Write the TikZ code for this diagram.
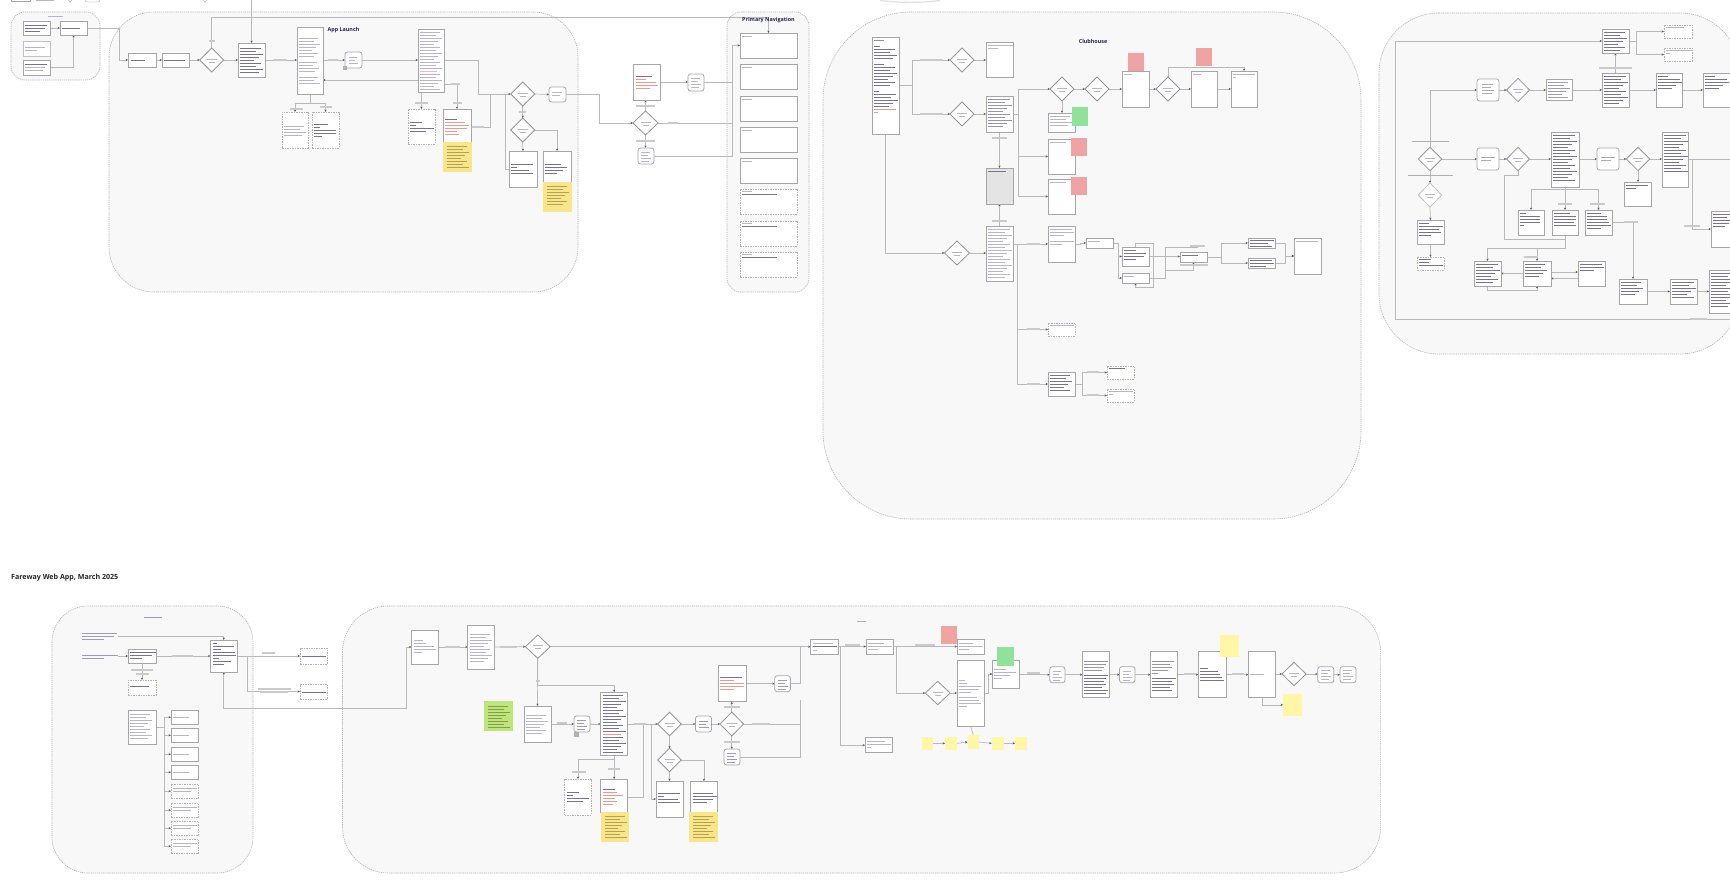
\documentclass[tikz,border=0pt]{standalone}
\usepackage{fontspec}
\setmainfont{Open Sans}
\usetikzlibrary{shapes.geometric,arrows.meta,calc}
\definecolor{grpfill}{HTML}{F8F8F8}
\definecolor{grpline}{HTML}{B2B2B2}
\definecolor{boxline}{HTML}{A6A6A6}
\definecolor{boxgray}{HTML}{E4E4E4}
\definecolor{conline}{HTML}{B9B9B9}
\definecolor{arrcol}{HTML}{5A5A5A}
\definecolor{tdark}{HTML}{76728F}
\definecolor{tlight}{HTML}{B8B5CA}
\definecolor{tred}{HTML}{E99A8C}
\definecolor{navy}{HTML}{23234F}
\definecolor{lblcol}{HTML}{CACACA}
\definecolor{yel}{HTML}{FAE68A}
\definecolor{yeltext}{HTML}{B3A24F}
\definecolor{lime}{HTML}{C0E47C}
\definecolor{limetext}{HTML}{7E9E48}
\definecolor{redst}{HTML}{F0A3A3}
\definecolor{grnst}{HTML}{8EE29A}
\definecolor{paley}{HTML}{FFF7A6}
\pgfdeclarelayer{grp}
\pgfdeclarelayer{bg}
\pgfsetlayers{grp,bg,main}
\tikzset{
 grp/.style={draw=grpline,fill=grpfill,dash pattern=on 1.2pt off 0.9pt,line width=0.6pt},
 box/.style={draw=boxline,fill=white,line width=0.8pt,inner sep=0pt,outer sep=0pt},
 dbox/.style={box,draw=boxline!85,dash pattern=on 1.5pt off 1pt},
 gbox/.style={box,fill=boxgray},
 cyl/.style={box,rounded corners=2.5pt},
 dia/.style={shape=diamond,draw=boxline!90!black,fill=white,line width=0.8pt,inner sep=0pt,outer sep=0pt},
 ddia/.style={dia,draw=boxline!70},
 stk/.style={inner sep=0pt,outer sep=0pt,draw=none},
 con/.style={draw=conline,line width=0.7pt},
 arr/.style={con,-{Stealth[length=2.4pt,width=2.2pt,color=arrcol]}},
 darr/.style={con,{Stealth[length=2.4pt,width=2.2pt,color=arrcol]}-{Stealth[length=2.4pt,width=2.2pt,color=arrcol]}},
 lbl/.style={draw=lblcol,line width=1.5pt},
 ttl/.style={font=\bfseries\fontsize{5.4}{6}\selectfont,text=navy,inner sep=0pt},
}
\newcommand{\mkbox}[6][box]{\node[#1,anchor=north west,minimum width={(#5)-(#3)},minimum height={(#6)-(#4)}] (#2) at (#3,#4) {};}
\newcommand{\mkdia}[6][dia]{\node[#1,minimum width={2*(#5)},minimum height={2*(#6)}] (#2) at (#3,#4) {};
 \draw[tlight,line width=0.8pt] ({#3-5},{#4-1}) -- ++(10,0) ({#3-3},{#4+2}) -- ++(6,0);}
\newcommand{\txl}[4][tdark]{\foreach \w [count=\k from 0] in {#4}{\draw[#1,line width=0.9pt] (#2,{#3+\k*3}) -- ++(\w,0);}}
\newcommand{\txn}[5][tdark]{\foreach \k in {1,...,#4}{\pgfmathsetmacro\ww{(#5)*(0.62+0.38*mod(\k*3,5)/4)}\draw[#1,line width=0.9pt] (#2,{#3+(\k-1)*3}) -- ++(\ww,0);}}
\newcommand{\lbar}[3]{\draw[lbl] (#1,#3) -- (#2,#3);}
\begin{document}
\begin{tikzpicture}[x=1pt,y=-1pt]
\useasboundingbox (0,0) rectangle (1730,890);
\begin{pgfonlayer}{grp}
\fill[white] (0,0) rectangle (1730,890);
\draw[grp,rounded corners=14pt] (11,12) rectangle (100,80);
\draw[grp,rounded corners=45pt] (109,12) rectangle (578,292);
\draw[grp,rounded corners=14pt] (727,12) rectangle (809,292);
\draw[grp,rounded corners=88pt] (823,12) rectangle (1361,519);
\draw[grp,rounded corners=60pt] (1379,13) -- (1740,13) -- (1740,354) [rounded corners=60pt] -- (1379,354) -- cycle;
\draw[grp,rounded corners=36pt] (52,606) rectangle (253,873);
\draw[grp,rounded corners=46pt] (342.5,606) rectangle (1380.6,873);
\end{pgfonlayer}
% top strip remnants
\draw[boxline] (11,-6) rectangle (30,1.5);
\draw[tlight,line width=0.9pt] (36,0.8) -- (54,0.8);
\draw[boxline] (66,-3) -- (70,2) -- (74,-3);
\draw[boxline,rounded corners=2pt] (85,-6) rectangle (100,2);
\draw[boxline] (201,-3) -- (205,2) -- (209,-3);
\draw[gray!25,line width=1.2pt] (880,0.5) .. controls (900,3) and (920,3) .. (940,0.5);
% group A
\draw[tlight,line width=0.9pt] (48,16) -- (63,16);
\mkbox{a1}{23}{21}{50.5}{35} \txl{25}{25}{22,20,15}
\mkbox{a2}{60}{21}{87}{35} \txl{62}{28}{18}
\mkbox[box,draw=boxline!70]{a3}{23}{41}{50.5}{56} \txl[tlight]{25}{47}{20,12}
\mkbox{a4}{23}{60}{50.5}{75} \txl{25}{64}{22} \txl[tlight]{25}{67}{20,18}
% App Launch
\node[ttl] (tal) at (343.5,30) {App Launch};
\mkbox{l1}{128}{53}{156}{67} \txl{131}{60}{14}
\mkbox{l2}{162}{53}{189}{67} \txl{164}{60}{21}
\mkdia{ld1}{211.7}{60}{12}{12}
\mkbox{l3}{238}{43}{265}{77} \txn{240}{48}{9}{23}
\mkbox{l4}{297}{27}{323}{94} \txn[tlight]{299}{38}{7}{21} \txn[tlight]{299}{62}{4}{20} \txn[tlight]{299}{77}{3}{21}
\mkbox[cyl]{lc1}{345}{52}{362}{68} \txn[tlight]{349}{57}{3}{9}
\fill[gray!60] (343,66) rectangle (347,70);
\mkbox{l5}{418}{29}{444}{92} \txn[tlight]{420}{32}{13}{22} \txl[tred!70]{420}{71}{17} \txn[tlight]{420}{74}{6}{22}
\mkbox[dbox]{ldb1}{282}{112}{308}{148} \txn[tlight]{284}{126}{4}{22}
\mkbox[dbox]{ldb2}{312}{112}{339}{148} \txl{314}{124}{14,6,22,22,8}
\mkbox[dbox]{ldb3}{408}{109}{435}{144} \txl{410}{122}{12,6,24,16}
\mkbox{l6}{443}{109}{471}{150} \txl{445}{119}{12} \txl[tred]{445}{122}{20,24,22,12,14}
\mkbox[stk,fill=yel]{ys1}{443}{142}{472}{172} \txn[yeltext]{447}{146}{8}{22}
\mkdia{ld2}{522.7}{94}{12}{12}
\mkbox[cyl]{lc2}{549}{87}{566}{102} \txn[tlight]{552}{92}{2}{11}
\mkdia{ld3}{522.7}{130}{12}{12}
\mkbox{l7}{509}{151}{537}{187} \txl{511}{164}{22,6,18,22}
\mkbox{l8}{543}{151}{571}{190} \txl{545}{164}{16,22,18,12}
\mkbox[stk,fill=yel]{ys2}{543}{182}{572}{212} \txn[yeltext]{547}{186}{7}{22}
% middle
\mkbox{n1}{633}{64}{660}{100} \txl{636}{76}{16} \txl[tred]{636}{79}{10,20,22,14}
\mkbox[cyl]{nc1}{688}{74}{704}{91} \txn[tlight]{691}{78}{4}{10}
\mkdia{nd1}{645.5}{123}{12.6}{12}
\mkbox[cyl]{nc2}{638}{148}{654}{164} \txn[tlight]{641}{152}{4}{10}
% primary navigation
\node[ttl] (tpn) at (768.5,20) {Primary Navigation};
\foreach \n/\t in {1/33,2/64,3/96,4/127,5/158}{\mkbox{pn\n}{740}{\t}{797}{\t+25} \txl[tlight]{742}{\t+3}{10}}
\foreach \n/\t in {6/189,7/221,8/252}{\mkbox[dbox]{pn\n}{740}{\t}{797}{\t+25} \txl[tlight]{742}{\t+2}{10} \txl{742}{\t+5}{35}}
% clubhouse
\node[ttl] (tcl) at (1093,41) {Clubhouse};
\mkbox{c1}{872}{37}{899}{134}
\txl[tdark!80]{874}{40}{10} \txl{874}{46}{6} \txn{874}{49}{4}{23} \txl{874}{64}{10} \txn{874}{67}{7}{23}
\txl{874}{91}{5} \txn{874}{94}{5}{24} \txl[tred]{874}{109}{22,4}
\mkdia{cd1}{962}{60}{12}{12}
\mkbox{cb1}{986}{42}{1013}{77} \txl[tlight]{988}{45}{25,10}
\mkdia{cd2}{962}{114}{12}{12}
\mkbox{cb2}{986}{96}{1013}{132} \txn[tdark!75]{988}{99}{10}{24}
\mkbox[gbox]{cb3}{986}{168}{1013}{204} \txl{988}{171}{18}
\mkbox{cb4}{986}{226}{1013}{281} \txn[tlight]{988}{229}{17}{24}
\mkdia{cd3}{957}{253}{12.5}{12}
\mkdia{cd4}{1062}{89}{12}{12}
\mkdia{cd5}{1097}{89}{12}{12}
\mkdia{cd6}{1168}{89}{12}{12}
\mkbox{cb5}{1048}{113}{1075}{132} \txn[tlight]{1050}{116}{4}{22}
\mkbox[stk,fill=grnst]{gs1}{1072}{107}{1088}{126}
\mkbox{cb6}{1048}{139}{1075}{174} \txl[tlight]{1050}{142}{16}
\mkbox[stk,fill=redst]{rs1}{1071}{138}{1087}{156}
\mkbox{cb7}{1048}{179}{1075}{214} \txl[tlight]{1050}{182}{16}
\mkbox[stk,fill=redst]{rs2}{1071}{177}{1087}{195}
\mkbox{cb8}{1122}{71}{1149}{107} \txl[tlight]{1124}{74}{8}
\mkbox[stk,fill=redst]{rs3}{1128}{53}{1144}{71}
\mkbox{cb9}{1191}{71}{1217}{107} \txl[tlight]{1193}{74}{8}
\mkbox[stk,fill=redst]{rs4}{1196}{48}{1212}{66}
\mkbox{cb10}{1231}{71}{1257}{107} \txl[tlight]{1233}{74}{22,3}
\mkbox{cb11}{1048}{226}{1075}{262} \txl[tlight]{1050}{229}{22,24,14} \txl[tlight]{1050}{241}{24,12}
\mkbox{cb12}{1086}{238}{1113}{248} \txl[tlight]{1088}{241}{12}
\mkbox{cb15}{1122}{247}{1149}{266} \txl{1124}{250}{12,22,20,12}
\mkbox{cb16}{1122}{273}{1149}{283} \txl[tlight]{1124}{276}{10}
\mkbox{cb17}{1180}{252}{1207}{262} \txl{1182}{255}{16}
\mkbox{cb18}{1248}{238}{1275}{248} \txl{1250}{240}{24,18,22}
\mkbox{cb19}{1248}{258}{1275}{268} \txl{1250}{260}{22,24,16}
\mkbox{cb20}{1294}{238}{1321}{274} \txl[tlight]{1296}{241}{22}
\mkbox[dbox]{cb13}{1048}{323}{1075}{336} \txl[tlight]{1050}{325}{24}
\mkbox{cb14}{1048}{372}{1075}{396} \txn{1050}{375}{6}{22}
\mkbox[dbox]{cb21}{1107}{366}{1134}{379} \txl{1109}{368}{16}
\mkbox[dbox]{cb22}{1107}{389}{1134}{402} \txl[tlight]{1109}{391}{24,4}
% right group
\mkbox{r1}{1602}{29}{1629}{53} \txn{1604}{32}{7}{23}
\mkbox[dbox]{rd1}{1664}{25}{1692}{38} \txl[tlight]{1666}{27}{18}
\mkbox[dbox]{rd2}{1664}{48}{1692}{61} \txl[tlight]{1666}{50}{26,4}
\mkbox{r2}{1602}{73}{1629}{107} \txn{1604}{76}{10}{24}
\mkbox[cyl]{rc1}{1477}{79}{1499}{101} \txn[tdark!60]{1482}{84}{4}{12}
\mkdia{rd3}{1518}{90}{11.5}{11.7}
\mkbox{r3}{1546}{79}{1572}{100} \txn[tdark!70]{1548}{82}{6}{22}
\mkbox{r4}{1656}{73}{1682}{107} \txl{1658}{76}{10,22,24,18,14}
\mkbox{r5}{1703}{73}{1760}{107} \txl{1705}{76}{10,22,24,18,14}
\mkdia{rdm}{1430}{159}{11.7}{11.7}
\mkbox[cyl]{rc2}{1477}{148}{1499}{170} \txl[tdark!60]{1481}{157}{14,10}
\mkdia{rd4}{1518}{159}{11.5}{11.7}
\mkbox{r6}{1551}{132}{1579}{187} \txn{1553}{135}{16}{24}
\mkbox[cyl]{rc3}{1597}{148}{1619}{170} \txl[tdark!60]{1601}{157}{14,10}
\mkdia{rd5}{1638}{159}{11.7}{11.7}
\mkbox{r7}{1662}{132}{1688}{187} \txn{1664}{135}{13}{24}
\mkbox{r8}{1624}{182}{1651}{206} \txl{1626}{185}{22,10}
\mkdia[ddia]{rd6}{1430}{195}{11.7}{12}
\mkbox{r9}{1417}{220}{1444}{244} \txl{1419}{223}{10,24,20,22,12}
\mkbox[dbox]{rd7}{1417}{257}{1444}{270} \txl{1419}{259}{12,10,24}
\mkbox{r10}{1518}{210}{1544}{235} \txl{1520}{213}{6,20,20,20,4}
\mkbox{r11}{1552}{210}{1578}{235} \txl{1554}{213}{16,22,22,20,22}
\mkbox{r12}{1585}{210}{1612}{235} \txl{1587}{213}{14,20,20,22,24,14}
\mkbox{r13}{1474}{261}{1501}{286} \txn{1476}{264}{7}{24}
\mkbox{r14}{1523}{261}{1551}{286} \txn{1525}{264}{5}{22}
\mkbox{r15}{1578}{261}{1605}{286} \txl{1580}{264}{22,24,14}
\mkbox{r16}{1619}{279}{1647}{304} \txn{1621}{282}{5}{22}
\mkbox{r17}{1670}{279}{1697}{304} \txn{1672}{282}{6}{24}
\mkbox{r18}{1709}{270}{1760}{313} \txn{1711}{273}{12}{24}
\mkbox{r19}{1711}{211}{1760}{247} \txn{1713}{214}{5}{20}
\draw[boxline!90,line width=1pt] (1412,142) -- (1449,142) (1408,176) -- (1453,176);
% title
\node[anchor=west,font=\bfseries\fontsize{7.1}{8}\selectfont,text=black!85,inner sep=0pt] (ftitle) at (11,578) {Fareway Web App, March 2025};
% lower-left group
\draw[tdark!70,line width=0.9pt] (143.5,617) -- (161.5,617);
\txl[tdark!70]{82}{633}{35,32,22}
\txl[tdark!70]{82}{655}{36,22}
\coordinate (t1e) at (117.5,636);
\coordinate (t2e) at (118,656);
\mkbox{lb1}{128}{649}{156}{663} \txl{130}{652}{26,22,12}
\mkbox{lb2}{210.5}{640}{237}{672} \txl{212.5}{643}{4,21,8,22,23,6,18,11}
\mkbox[dbox]{ldash1}{128}{680}{156}{695} \txl{130}{686}{19}
\mkbox[dbox]{ldash2}{300}{648}{327}{664} \txl{302}{656}{24}
\mkbox[dbox]{ldash3}{300}{684}{327}{699} \txl{302}{692}{24}
\mkbox{lb3}{128}{710}{156}{744} \txn[tlight]{130}{714}{9}{22}
\foreach \n/\t in {1/710,2/728,3/747,4/765}{\mkbox{ls\n}{171}{\t}{198.6}{\t+14.5} \txl[tlight]{173}{\t+7}{16}}
\foreach \n/\t in {5/784,6/803,7/821,8/839}{\mkbox[dbox]{ls\n}{171}{\t}{198.6}{\t+14.5} \txl[tlight]{173}{\t+4}{24,18}}
% lower-right group
\draw[tdark!60,line width=0.9pt] (857,621) -- (866,621);
\mkbox{m1}{411.5}{630}{438.7}{664} \txl[tlight]{413.5}{640}{9,12,20,22,8}
\mkbox{m2}{467.8}{625}{494.6}{669} \txn[tlight]{470}{634}{10}{22}
\mkdia{md1}{537.8}{646.7}{12.4}{11.7}
\mkbox{m3}{524}{706}{551}{742} \txn[tlight]{526}{715}{7}{22}
\mkbox[cyl]{mc1}{574}{716}{590}{732} \txn[tdark!70]{577}{720}{4}{10}
\fill[gray!60] (574,732) rectangle (578.5,737);
\mkbox{m5}{600.6}{692}{627.7}{755} \txn{602.6}{695}{13}{23} \txl[tred]{602.6}{734}{18} \txn{602.6}{737}{6}{23}
\mkdia{md2}{669.5}{724}{11.7}{11.7}
\mkbox[cyl]{mc2}{695.5}{716}{711.5}{732} \txn[tdark!70]{698.5}{721}{3}{10}
\mkdia{md3}{731.8}{724}{11.7}{12}
\mkbox{m6}{718.4}{665.7}{746}{701.7} \txl{720.4}{677}{22} \txl[tred]{720.4}{680}{14,24,24,14}
\mkbox[cyl]{mc3}{774.7}{675.7}{790.4}{691.7} \txn[tdark!70]{777.7}{680}{4}{10}
\mkbox[cyl]{mc4}{724}{749}{740}{765} \txn[tdark!70]{727}{753}{4}{10}
\mkdia{md4}{669.5}{760}{11.7}{11.7}
\mkbox{m8}{656}{781}{683}{817} \txl{658}{793}{22,6,20,22}
\mkbox{m9}{690.5}{781}{717.3}{817} \txl{692.5}{793}{20,24,20,14}
\mkbox[stk,fill=yel]{yl1}{689}{811.7}{718.4}{842} \txn[yeltext]{693}{816}{8}{22}
\mkbox[dbox]{m4d}{564.6}{779}{591.4}{815} \txl{566.6}{792}{12,6,22,16}
\mkbox{m7}{600.6}{779}{627.7}{812} \txl{602.6}{789}{12} \txl[tred]{602.6}{792}{14,20,12,14,10}
\mkbox[stk,fill=yel]{yl2}{600.6}{811.7}{628.5}{842} \txn[yeltext]{604.6}{816}{8}{22}
\mkbox[stk,fill=lime]{lime1}{484}{701}{513}{731} \txn[limetext]{488}{706}{8}{22}
\mkbox{m10}{810.6}{639}{838}{654} \txl[tlight]{812.6}{643}{20} \txl{812.6}{646}{24} \txl[tlight]{812.6}{650}{4}
\mkbox{m11}{866}{639}{893.7}{654} \txl[tlight]{868}{643}{16,24,10}
\mkbox{m12}{865}{737.7}{892.5}{752.7} \txl[tlight]{867}{741}{18,24,4}
\mkbox{m13}{957}{639}{984.7}{654} \txl[tlight]{959}{643}{14,24,10}
\mkbox[stk,fill=redst]{rs5}{941}{626}{957}{644}
\mkdia{md5}{937.7}{693}{12.4}{11.7}
\mkbox{m14}{957}{660}{984.7}{726.7} \txl[tlight]{959}{680}{6,8,22,20,12} \txl[tlight]{959}{697}{18,20,22,8}
\mkbox{m15}{992.4}{660}{1019}{688} \txl[tlight]{994.4}{669}{12,22,16,8}
\mkbox[stk,fill=grnst]{gs2}{997.4}{647}{1014}{666}
\mkbox[stk,fill=paley]{ps1}{921.6}{736.7}{933}{750}
\mkbox[stk,fill=paley]{ps2}{945}{736.7}{957}{750}
\mkbox[stk,fill=paley]{ps3}{967.5}{735}{979}{749}
\mkbox[stk,fill=paley]{ps4}{991.6}{736.7}{1004}{750}
\mkbox[stk,fill=paley]{ps5}{1015}{736.7}{1027}{750}
\mkbox[cyl]{mc5}{1049.8}{666.7}{1065}{682.7} \txn[tlight]{1052.8}{671}{4}{9}
\mkbox{m16}{1082.3}{651.7}{1109}{697.3} \txl[tdark!75]{1084.3}{661}{24,22,20,18} \txl{1084.3}{675}{24,22,20,22,18,24,22}
\mkbox[cyl]{mc6}{1119.5}{666.7}{1135}{682.7} \txn[tlight]{1122.5}{671}{4}{9}
\mkbox{m17}{1150.4}{651.7}{1177}{697.3} \txl[tdark!75]{1152.4}{661}{22,18,20,16,6} \txl{1152.4}{678}{24,20,22,18,20}
\mkbox{m18}{1198.3}{651.7}{1226}{697.3} \txl{1200.3}{668}{8,18,20,22,24}
\mkbox[stk,fill=paley]{ps6}{1220}{635}{1238.5}{656.7}
\mkbox{m19}{1248.4}{651.7}{1275.6}{697.3} \txl[tlight]{1250.4}{674}{14}
\mkdia{md6}{1294}{674}{12}{11.7}
\mkbox[cyl]{mc7}{1317.7}{666.7}{1333.8}{682.7} \txn[tlight]{1320.7}{670}{4}{10}
\mkbox[cyl]{mc8}{1340}{666.7}{1356}{682.7} \txn[tlight]{1343}{670}{4}{10}
\mkbox[stk,fill=paley]{ps7}{1283}{694}{1301.6}{715.7}
% ===================== connectors =====================
\begin{pgfonlayer}{bg}
\draw[arr] (a1.east) -- (a2.west);
\draw[arr] (a4.east) -| (a2.south);
\draw[arr] (a2.east) -- ++(32.4,0) |- (l1.west);
\draw[arr] (l1.east) -- (l2.west);
\draw[arr] (l2.east) -- (ld1.west);
\draw[arr] (ld1.east) -- (l3.west);
\coordinate (topin) at (251.5,0);
\draw[arr] (topin) -- (l3.north);
\draw[arr] (ld1.north) |- ($(pn1.north)+(0,-16)$) -- (pn1.north);
\draw[arr] (l3.east) -- (l3.east -| l4.west);
\draw[arr] (l4.east |- lc1.west) -- (lc1.west);
\draw[arr] (lc1.east) -- (lc1.east -| l5.west);
\draw[arr] (l5.west |- 0,80) -- (l4.east |- 0,80);
\draw[arr] (l4.south) -- ++(0,9) -| (ldb1.north);
\draw[arr] (l4.south) -- ++(0,9) -| (ldb2.north);
\draw[arr] (ldb3.north |- l5.south) -- (ldb3.north);
\draw[arr] (l5.east |- 0,84) -| (l6.north);
\draw[arr] (l5.east |- 0,60) -- ++(34,0) |- (ld2.west);
\draw[con] (l6.east |- 0,127) -| (490,94);
\draw[arr] (ld2.east) -- (lc2.west);
\draw[arr] (ld2.south) -- (ld3.north);
\draw[arr] (ld3.south) -- (l7.north);
\draw[arr] (ld3.east) -| (l8.north);
\draw[con] (l7.west) -| (505,94);
\draw[arr] (lc2.east) -- ++(33.5,0) |- (nd1.west);
\draw[arr] (n1.east) -- (n1.east -| nc1.west);
\draw[con] (nc1.east) -- ++(28.5,0);
\draw[con] (nd1.east) -- ++(74.4,0);
\draw[arr] (nd1.north) -- (nd1.north |- n1.south);
\draw[arr] (nd1.south) -- (nd1.south |- nc2.north);
\draw[arr] (nc2.east) -| ($(pn1.west)+(-7.5,0)$) -- (pn1.west);
% clubhouse
\draw[arr] (c1.east) -- ++(13,0) |- (cd1.west);
\draw[arr] (c1.east) -- ++(13,0) |- (cd2.west);
\draw[arr] (cd1.east) -- (cd1.east -| cb1.west);
\draw[arr] (cd2.east) -- (cd2.east -| cb2.west);
\draw[arr] (cb2.south) -- (cb3.north);
\draw[arr] (cb4.north) -- (cb3.south);
\draw[arr] (c1.south) |- (cd3.west);
\draw[arr] (cd3.east) -- (cd3.east -| cb4.west);
\draw[arr] (cb2.east) -- ++(5,0) |- (cd4.west);
\draw[arr] (cb2.east) -- ++(5,0) |- (cb6.west);
\draw[arr] (cb2.east) -- ++(5,0) |- (cb7.west);
\draw[arr] (cd4.east) -- (cd5.west);
\draw[arr] (cd5.east) -- (cd5.east -| cb8.west);
\draw[arr] (cb8.east |- cd6.west) -- (cd6.west);
\draw[arr] (cd6.east) -- (cd6.east -| cb9.west);
\draw[arr] (cb9.east |- cd6.east) -- (cd6.east -| cb10.west);
\draw[arr] (cd4.south) -- (cd4.south |- cb5.north);
\draw[arr] (cd6.north) -- ++(0,-10) -| (cb10.north);
\draw[arr] (cb4.east |- cb11.west) -- (cb11.west);
\draw[arr] (cb4.east |- cb11.west) -- ++(4,0) |- (cb13.west);
\draw[arr] (cb4.east |- cb11.west) -- ++(4,0) |- (cb14.west);
\draw[arr] (cb11.east) -- ++(5,0) |- (cb12.west);
\draw[arr] (cb12.east) -- ++(5,0) |- (cb15.west);
\draw[arr] (cb12.east) -- ++(5,0) |- (cb16.west);
\draw[arr] (cb15.east) -- (cb15.east -| cb17.west);
\draw[arr] (cb15.north) -- ++(0,-4) -- ++(17.5,0) -- ++(0,44) -| (cb16.south);
\draw[con] (cb16.east) -- ++(16,0) -- ++(0,-31) -- ++(33,0);
\draw[arr] ($(cb16.east)+(16,-8)$) -| (cb17.south);
\draw[arr] (cb17.east) -- ++(14,0) |- (cb18.west);
\draw[arr] (cb17.east) -- ++(14,0) |- (cb19.west);
\draw[arr] (cb18.east) -- ++(10,0) |- (cb20.west);
\draw[arr] (cb19.east) -- ++(10,0) |- (cb20.west);
\draw[arr] (cb14.east) -- ++(7,0) |- (cb21.west);
\draw[arr] (cb14.east) -- ++(7,0) |- (cb22.west);
% right group
\draw[arr] (r1.east) -- ++(7,0) |- (rd1.west);
\draw[arr] (r1.east) -- ++(7,0) |- (rd2.west);
\draw[arr] (r2.north) -- (r1.south);
\draw[arr] (rc1.east) -- (rd3.west);
\draw[arr] (rd3.east) -- (rd3.east -| r3.west);
\draw[arr] (r3.east |- rd3.east) -- (rd3.east -| r2.west);
\draw[arr] (r2.east) -- (r2.east -| r4.west);
\draw[arr] (r4.east) -- (r4.east -| r5.west);
\draw[arr] (rdm.north) |- (rc1.west);
\draw[arr] (rdm.east) -- (rc2.west);
\draw[arr] (rc2.east) -- (rd4.west);
\draw[arr] (rd4.east) -- (rd4.east -| r6.west);
\draw[arr] (r6.east |- rd4.east) -- (rc3.west);
\draw[arr] (rc3.east) -- (rd5.west);
\draw[arr] (rd5.east) -- (rd5.east -| r7.west);
\draw[con] (r7.east |- rd5.east) -- ++(60,0);
\draw[arr] (rd5.south) -- (rd5.south |- r8.north);
\draw[arr] (rdm.south) -- (rd6.north);
\draw[arr] (rd6.south) -- (r9.north);
\draw[arr] (r9.south) -- (rd7.north);
\draw[arr] (r6.south) -- ++(0,2) -| (r10.north);
\draw[arr] (r6.south) -- ++(0,2) -| (r11.north);
\draw[arr] (r6.south) -- ++(0,2) -| (r12.north);
\draw[con] (rd4.south) -- ++(0,4.5) -- ++(-14,0) -- ++(0,64) -| (r11.south);
\draw[arr] (r11.south) -- ++(0,13) -| (r13.north);
\draw[arr] (r11.south) -- ++(0,13) -| (r14.north);
\draw[arr] (r14.west) -- (r13.east);
\draw[arr] (r13.south) -- ++(0,4) -| (r14.south);
\draw[arr] ([yshift=1.5pt]r14.east) -- ([yshift=1.5pt]r15.west);
\draw[arr] ([yshift=-5pt]r15.west) -- ([yshift=-5pt]r14.east);
\draw[arr] (r12.east) -| (r16.north);
\draw[arr] (r16.east) -- (r17.west);
\draw[arr] (r17.east) -- (r17.east -| r18.west);
\draw[arr] (r7.east) -- ++(4,0) |- (r19.west);
\coordinate (rin) at (1760,319);
\draw[arr] (rin) -| ($(r1.west)+(-207,0)$) -- (r1.west);
% lower-left
\draw[arr] (t1e) -| (lb2.north);
\draw[arr] (t2e) -- (lb1.west);
\draw[arr] (lb1.east) -- (lb2.west |- lb1.east);
\draw[arr] (lb1.south) -- (ldash1.north);
\draw[arr] (lb2.east |- ldash2.west) -- (ldash2.west);
\draw[arr] (lb2.east |- ldash2.west) -- ++(10,0) |- (ldash3.west);
\draw[darr] (m1.west) -- ++(-5,0) |- ($(lb2.south)+(0,36)$) -- (lb2.south);
\foreach \n in {1,...,8}{\draw[arr] (lb3.east) -- ++(8,0) |- (ls\n.west);}
% lower-right
\draw[arr] (m1.east) -- (m1.east -| m2.west);
\draw[arr] (m2.east) -- (md1.west);
\draw[arr] (md1.east) -- (md1.east -| m10.west);
\draw[arr] (md1.south) -- (m3.north);
\draw[arr] (md1.south) -- ++(0,26.6) -| (m5.north);
\draw[arr] (m3.east |- mc1.west) -- (mc1.west);
\draw[arr] (mc1.east) -- (mc1.east -| m5.west);
\draw[arr] (m5.east |- md2.west) -- (md2.west);
\draw[con] (m7.east |- 0,797) -- ++(15.3,0) -- ++(0,-73);
\draw[arr] (m5.east |- md2.west) -- ++(23.8,0) |- (m8.west);
\draw[arr] (md2.east) -- (mc2.west);
\draw[arr] (mc2.east) -- (md3.west);
\draw[arr] (md3.north) -- (md3.north |- m6.south);
\draw[arr] (m6.east |- mc3.west) -- (mc3.west);
\draw[con] (mc3.east) -| (800.7,647);
\draw[con] (md3.east) -- ++(57.2,0);
\draw[con] (mc4.east) -| (800.7,700);
\draw[arr] (md3.south) -- (md3.south |- mc4.north);
\draw[arr] (md2.south) -- (md4.north);
\draw[arr] (md4.south) -- (md4.south |- m8.north);
\draw[arr] (md4.east) -| (m9.north);
\draw[arr] (m5.south) -- ++(0,4) -| (m4d.north);
\draw[arr] (m5.south) -- ++(0,4) -| (m7.north);
\draw[arr] (m10.east) -- ++(2.5,0) |- (m11.west);
\draw[arr] (m10.east) -- ++(2.5,0) |- (m12.west);
\draw[arr] (m11.east) -- (m11.east -| m13.west);
\draw[arr] (m11.east) -- ++(3,0) |- (md5.west);
\draw[arr] (md5.east) -- (md5.east -| m14.west);
\draw[arr] (m14.east |- md5.east) -- ++(4,0) |- (m15.west);
\draw[con] (m14.south) -- (ps3.north);
\draw[arr] (ps1.east) -- (ps2.west);
\draw[arr] (ps2.east) -- (ps3.west);
\draw[arr] (ps3.east) -- (ps4.west);
\draw[arr] (ps4.east) -- (ps5.west);
\draw[arr] (m15.east |- mc5.west) -- (mc5.west);
\draw[arr] (mc5.east) -- (mc5.east -| m16.west);
\draw[arr] (m16.east |- mc6.west) -- (mc6.west);
\draw[arr] (mc6.east) -- (mc6.east -| m17.west);
\draw[arr] (m17.east |- mc6.east) -- (mc6.east -| m18.west);
\draw[arr] (m18.east |- mc6.east) -- (mc6.east -| m19.west);
\draw[arr] (m19.east |- md6.west) -- (md6.west);
\draw[arr] (md6.east) -- (md6.east -| mc7.west);
\draw[arr] (mc7.east) -- (mc7.east -| mc8.west);
\draw[arr] (m19.south) |- (ps7.west);
\end{pgfonlayer}
% edge label bars
\lbar{209}{215}{41} \lbar{273}{287}{60} \lbar{328}{338}{60} \lbar{290}{303}{109} \lbar{320}{332}{107}
\lbar{415}{428}{103} \lbar{453}{462}{103} \lbar{451}{460}{84} \lbar{472}{484}{127} \lbar{519}{526}{112}
\lbar{636}{655}{106} \lbar{636}{655}{141} \lbar{668}{678}{123}
\lbar{920}{943}{60} \lbar{920}{943}{114} \lbar{992}{1007}{138} \lbar{992}{1007}{221} \lbar{1027}{1040}{244} \lbar{1027}{1040}{329} \lbar{1027}{1040}{384}
\lbar{1190}{1205}{246} \lbar{1180}{1208}{265} \lbar{1087}{1099}{372} \lbar{1087}{1099}{395}
\lbar{1599}{1632}{68} \lbar{1558}{1572}{204} \lbar{1590}{1605}{204} \lbar{1524}{1538}{257} \lbar{1624}{1638}{222} \lbar{1684}{1700}{226} \lbar{1690}{1707}{319}
\lbar{131}{153}{670} \lbar{136}{149}{674} \lbar{172}{193}{656} \lbar{262}{275}{653} \lbar{258}{291}{689} \lbar{260}{288}{692}
\lbar{445}{460}{647} \lbar{500}{517}{647} \lbar{557}{567}{723} \lbar{536}{540}{681} \lbar{572}{586}{772} \lbar{608}{620}{769}
\lbar{634}{646}{724} \lbar{724}{740}{707} \lbar{724}{740}{742} \lbar{752}{770}{724} \lbar{845}{860}{645} \lbar{915}{935}{645} \lbar{1027}{1040}{673} \lbar{1184}{1196}{674} \lbar{1232}{1244}{674}
\end{tikzpicture}
\end{document}
